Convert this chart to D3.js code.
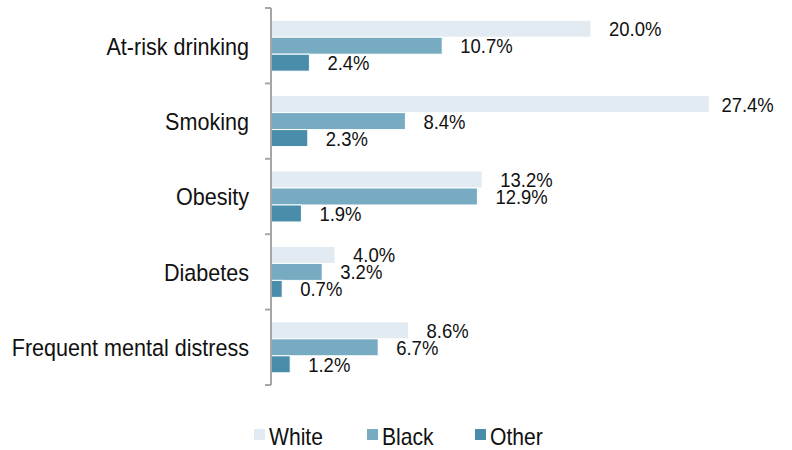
<!DOCTYPE html>
<html>
<head>
<meta charset="utf-8">
<script src="https://cdn.jsdelivr.net/npm/d3@7"></script>
<style>
  body { margin: 0; background: #fff; }
  text { font-family: "Liberation Sans", Arial, sans-serif; fill: #111; }
</style>
</head>
<body>
<svg id="chart" width="792" height="450"></svg>
<script>
// categories and series
var categories = ["At-risk drinking", "Smoking", "Obesity", "Diabetes", "Frequent mental distress"];
var seriesNames = ["White", "Black", "Other"];
var white = [20.0, 27.4, 13.2, 4.0, 8.6];
var black = [10.7, 8.4, 12.9, 3.2, 6.7];
var other = [2.4, 2.3, 1.9, 0.7, 1.2];
var colors = ["#e2ebf1", "#77abc1", "#4a8dab"];

var values = [white, black, other];

var svg = d3.select("#chart");
var axisX = 271;
var narrow = 0.88;   // squeeze text to look like a condensed face

var x = d3.scaleLinear().domain([0, 27.4]).range([axisX, axisX + 27.4 * 16]);
var y = d3.scaleBand().domain(categories).range([8, 385]).paddingInner(0).paddingOuter(0);
var yInner = d3.scaleBand().domain(seriesNames).range([0, y.bandwidth()]).paddingOuter(0.72).paddingInner(0);

function rows(c, i) {
    return seriesNames.map(function (s, j) { return {s: s, v: values[j][i], j: j}; });
}

// bars
var groups = svg.selectAll("g.cat")
    .data(categories)
    .enter()
    .append("g")
    .attr("class", "cat")
    .attr("transform", function (c) { return "translate(0," + y(c) + ")"; });

groups.selectAll("rect")
    .data(rows)
    .enter()
    .append("rect")
    .attr("x", x(0))
    .attr("y", function (d) { return yInner(d.s); })
    .attr("width", function (d) { return x(d.v) - x(0); })
    .attr("height", yInner.bandwidth())
    .attr("fill", function (d) { return colors[d.j]; })
    .attr("stroke", "#fff")
    .attr("stroke-width", 1);

// value labels
groups.selectAll("text.val")
    .data(rows)
    .enter()
    .append("text")
    .attr("class", "val")
    .attr("x", function (d) { return x(d.v) + (d.v > 25 ? 12 : 18); })
    .attr("y", function (d) { return yInner(d.s) + yInner.bandwidth() / 2; })
    .attr("dy", "0.36em")
    .style("font-size", "21px")
    .text(function (d) { return d.v.toFixed(1) + "%"; });

// axis
var yAxis = d3.axisLeft(y).tickSize(0).tickPadding(22);
var ax = svg.append("g").attr("transform", "translate(" + axisX + ",0)").call(yAxis);
ax.select(".domain").remove();
ax.selectAll("text").style("font-size", "24.5px").attr("fill", "#111").attr("dy", "0.36em");

var bounds = categories.map(function (c) { return y(c); }).concat([y.range()[1]]);
svg.append("line")
    .attr("x1", axisX).attr("x2", axisX)
    .attr("y1", 8).attr("y2", 385)
    .attr("stroke", "#a6a6a6").attr("stroke-width", 2);
svg.selectAll("line.tick")
    .data(bounds)
    .enter()
    .append("line")
    .attr("class", "tick")
    .attr("x1", axisX - 6).attr("x2", axisX)
    .attr("y1", function (d) { return d; }).attr("y2", function (d) { return d; })
    .attr("stroke", "#a6a6a6").attr("stroke-width", 2);

// legend
var legendX = [254, 367, 475];
var legend = svg.selectAll("g.legend")
    .data(seriesNames)
    .enter()
    .append("g")
    .attr("class", "legend")
    .attr("transform", function (d, i) { return "translate(" + legendX[i] + ",429)"; });
legend.append("rect")
    .attr("width", 11).attr("height", 11)
    .attr("fill", function (d, i) { return colors[i]; });
legend.append("text")
    .attr("x", 15)
    .attr("y", 7)
    .attr("dy", "0.36em")
    .style("font-size", "24px")
    .text(function (d) { return d; });

// condense all text
svg.selectAll("text").each(function () {
    var len = this.getComputedTextLength();
    d3.select(this).attr("textLength", len * narrow).attr("lengthAdjust", "spacingAndGlyphs");
});
</script>
</body>
</html>
